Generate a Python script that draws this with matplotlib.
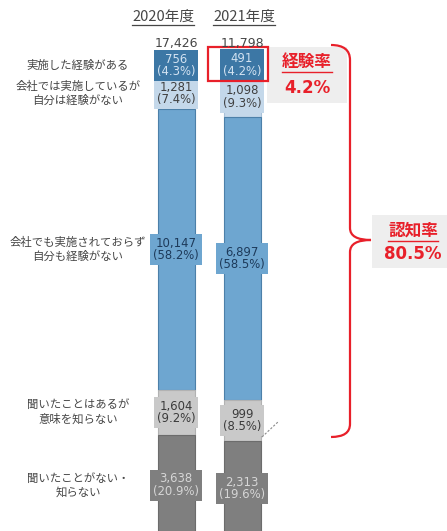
import numpy as np
import matplotlib
matplotlib.use("Agg")
import matplotlib.pyplot as plt
from matplotlib.path import Path
from matplotlib.patches import PathPatch, Rectangle

plt.rcParams["font.family"] = ["DejaVu Sans", "Noto Sans CJK JP"]
JP = ["Noto Sans CJK JP", "DejaVu Sans"]

# --- data ---
years = ["2020年度", "2021年度"]
totals = [17426, 11798]
categories = ["実施した経験がある",
              "会社では実施しているが\n自分は経験がない",
              "会社でも実施されておらず\n自分も経験がない",
              "聞いたことはあるが\n意味を知らない",
              "聞いたことがない・\n知らない"]
counts_2020 = [756, 1281, 10147, 1604, 3638]
counts_2021 = [491, 1098, 6897, 999, 2313]
exp_label = "経験率"
exp_rate = "4.2%"
aware_label = "認知率"
aware_rate = "80.5%"

# --- styling ---
seg_fc = ["#3c77a5", "#c4d8ea", "#6ea6d0", "#c9c9c9", "#7f7f7f"]
seg_ec = ["#2f6089", "#a8c1d8", "#4c80a9", "#b2b2b2", "#6c6c6c"]
seg_tc = ["#d3e3f2", "#404040", "#1d3a5a", "#3a3a3a", "#d6d6d6"]
RED = "#e8202a"
GREY_TXT = "#464646"

W, H = 447, 531
TOP, SCALE = 52, 4.835          # bar top in px, px per percent
XS = [176, 242]
BW = 37

fig = plt.figure(figsize=(W / 100, H / 100), dpi=100)
ax = fig.add_axes([0, 0, 1, 1])
ax.set_xlim(0, W)
ax.set_ylim((H - TOP) / SCALE, -TOP / SCALE)
ax.axis("off")
deco = fig.add_axes([0, 0, 1, 1], zorder=3)
deco.set_xlim(0, W)
deco.set_ylim(H, 0)
deco.axis("off")
deco.patch.set_alpha(0)

# small segments at the top get their labels pushed down a little
nudge = [0.6, 0.5, 0, 0, 0]
for x, counts, tot in zip(XS, [counts_2020, counts_2021], totals):
    counts = np.array(counts, float)
    pct = counts / tot * 100
    bottoms = np.cumsum(pct) - pct
    ax.bar([x] * len(pct), pct, bottom=bottoms, width=BW, color=seg_fc,
           edgecolor=seg_ec, linewidth=0.8, zorder=1)
    for k, (c, p, b) in enumerate(zip(counts, pct, bottoms)):
        ax.text(x, b + p / 2 + nudge[k], f"{int(c):,}\n({p:.1f}%)", ha="center", va="center",
                fontsize=8.4, color=seg_tc[k], linespacing=0.92, zorder=3 - 0.1 * k,
                bbox=dict(boxstyle="square,pad=0.25", fc=seg_fc[k], ec="none"))
    deco.text(x, 43, f"{tot:,}", ha="center", va="center", fontsize=9, color=GREY_TXT)

# category labels next to the 2020 bar
p20 = np.array(counts_2020) / totals[0] * 100
c20 = np.cumsum(p20) - p20 / 2
for k, (cat, y) in enumerate(zip(categories, c20)):
    ax.text(78, y + nudge[k], cat, ha="center", va="center", family=JP,
            fontsize=8.2, color=GREY_TXT, linespacing=1.35)

# year headers (underlined)
heads = [deco.text(hx, 17, yr, ha="center", va="center", family=JP, fontsize=10.5,
                   color=GREY_TXT) for hx, yr in zip([163, 244], years)]

# highlight boxes
deco.add_patch(Rectangle((208, 47), 60, 34, fill=False, ec=RED, lw=1.6))
deco.add_patch(Rectangle((267, 47), 80, 56, fc="#eeeeee", ec="none", zorder=0))
deco.add_patch(Rectangle((372, 215), 80, 53, fc="#eeeeee", ec="none", zorder=0))
t_exp = deco.text(307, 62, exp_label, ha="center", va="center", family=JP,
                  fontsize=12, fontweight="bold", color=RED)
deco.text(307, 88, exp_rate, ha="center", va="center", fontsize=12,
          fontweight="bold", color=RED)
t_aw = deco.text(413, 231, aware_label, ha="center", va="center", family=JP,
                 fontsize=12, fontweight="bold", color=RED)
deco.text(413, 254, aware_rate, ha="center", va="center", fontsize=12,
          fontweight="bold", color=RED)

# curly bracket
verts = [(331, 45), (350, 45), (350, 60), (350, 228), (350, 240), (371, 240),
         (350, 240), (350, 252), (350, 424), (350, 437), (331, 437)]
codes = [Path.MOVETO, Path.CURVE3, Path.CURVE3, Path.LINETO, Path.CURVE3, Path.CURVE3,
         Path.CURVE3, Path.CURVE3, Path.LINETO, Path.CURVE3, Path.CURVE3]
deco.add_patch(PathPatch(Path(verts, codes), fc="none", ec=RED, lw=1.6))

deco.plot([262, 279], [437, 421], ls=(0, (2, 1.5)), color="#8a8a8a", lw=0.8)

# underline helper
fig.canvas.draw()
r = fig.canvas.get_renderer()
inv = deco.transData.inverted()
for t, col, gap, lw in [(heads[0], GREY_TXT, 1, 0.9), (heads[1], GREY_TXT, 1, 0.9),
                        (t_exp, RED, 1, 1.0), (t_aw, RED, 1, 1.0)]:
    bb = t.get_window_extent(r)
    (x0, y0), (x1, _) = inv.transform([(bb.x0, bb.y0), (bb.x1, bb.y1)])
    deco.plot([x0, x1], [y0 + gap, y0 + gap], color=col, lw=lw)

fig.savefig("out.png", dpi=100)
